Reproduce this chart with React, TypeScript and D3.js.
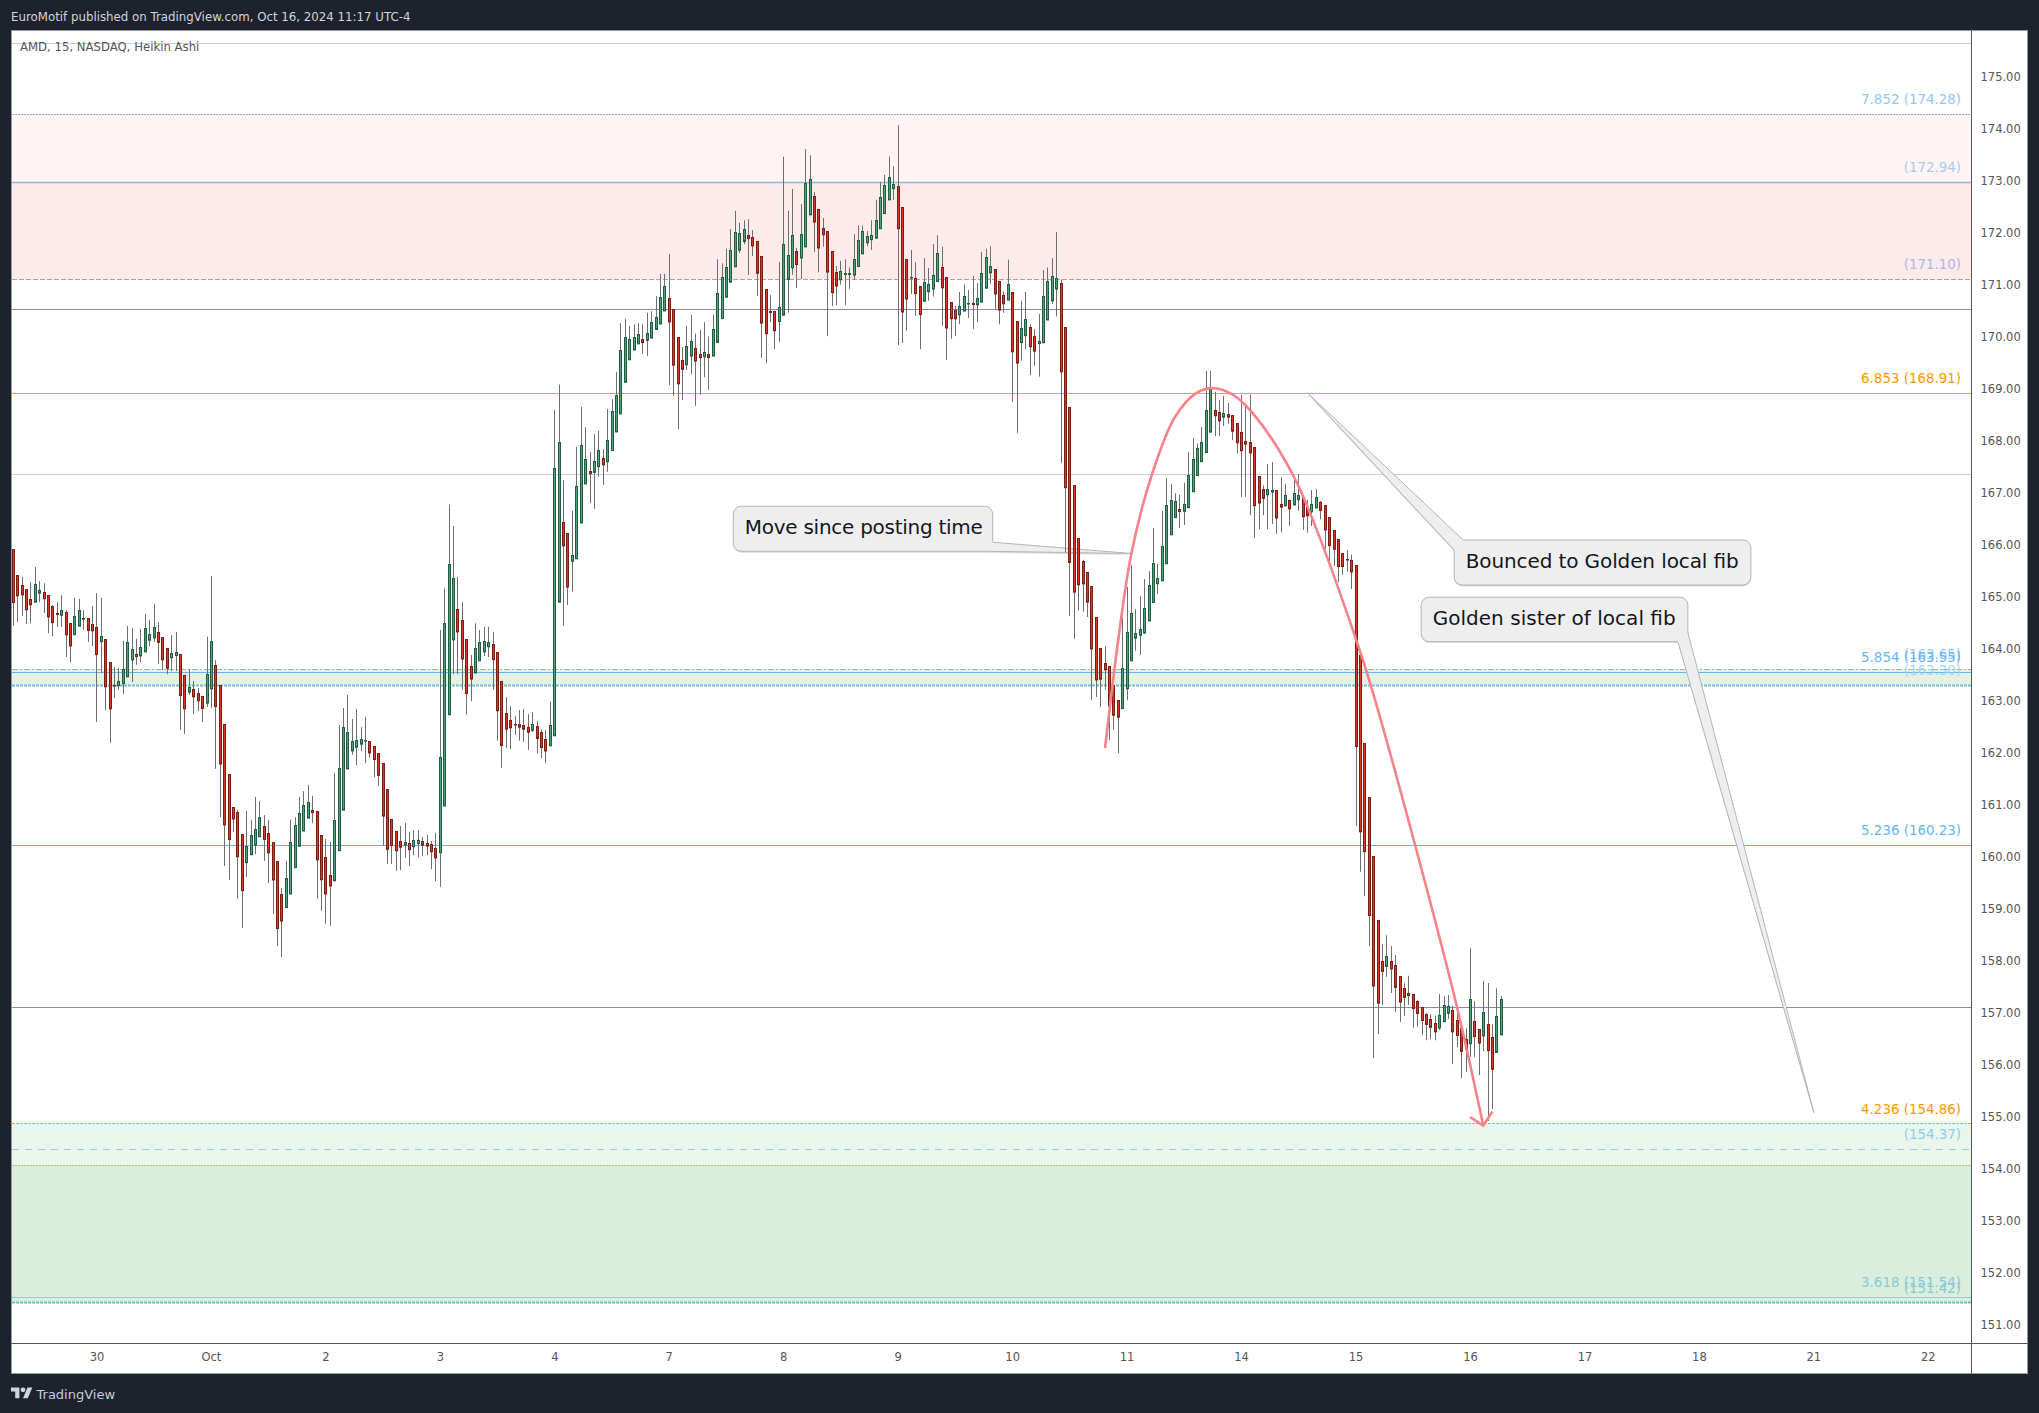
import React, { useEffect, useRef } from 'react';
import * as d3 from 'd3';

// Heikin Ashi bars, 26 to a session
const barOpen = [
  165.91,165.41,165.22,165.14,164.95,164.90,165.06,165.08,165.03,164.81,
  164.67,164.65,164.70,164.49,164.27,164.44,164.58,164.58,164.47,164.41,
  164.14,164.18,163.74,163.30,163.29,163.33,163.46,163.79,163.89,163.87,
  163.94,164.17,164.21,164.31,164.22,164.01,163.83,163.87,163.89,163.49,
  163.17,163.22,163.14,163.08,162.96,163.23,163.68,163.30,162.55,161.58,
  160.95,160.85,160.43,159.89,160.04,160.23,160.39,160.58,160.45,160.28,
  159.91,159.28,159.02,159.29,159.79,160.20,160.50,160.75,160.89,160.87,
  160.41,159.99,159.64,159.54,160.12,160.90,161.69,162.04,162.11,162.17,
  162.23,162.22,162.12,161.99,161.80,161.30,160.72,160.49,160.30,160.23,
  160.26,160.19,160.25,160.30,160.26,160.24,160.16,160.08,160.98,162.73,
  164.17,164.76,164.55,164.18,163.66,163.54,163.77,163.94,164.04,164.08,
  163.93,163.37,162.76,162.62,162.55,162.55,162.53,162.49,162.44,162.51,
  162.39,162.26,162.14,162.33,164.90,166.43,166.22,165.69,165.73,166.42,
  167.17,167.41,167.39,167.50,167.66,167.60,167.81,168.17,168.52,169.13,
  169.56,169.75,169.87,169.95,169.93,169.98,170.14,170.25,170.50,170.74,
  170.53,169.99,169.55,169.46,169.63,169.78,169.66,169.62,169.66,169.63,
  169.89,170.35,170.76,171.05,171.35,171.67,171.83,171.95,171.91,171.83,
  171.55,170.91,170.49,170.49,170.29,170.42,171.10,171.33,171.64,171.52,
  171.73,172.35,172.70,172.45,172.08,172.03,171.64,171.24,171.10,171.19,
  171.19,171.19,171.35,171.60,171.81,171.87,171.90,172.08,172.37,172.64,
  172.85,172.89,172.49,171.49,171.12,171.12,170.96,170.69,170.87,170.92,
  171.06,171.33,171.14,170.66,170.51,170.42,170.50,170.63,170.64,170.62,
  170.67,170.94,171.23,171.30,171.07,170.80,170.71,170.85,170.30,169.89,
  170.02,170.18,170.01,169.87,169.89,170.33,170.69,170.92,171.03,170.18,
  168.64,167.14,166.12,165.68,165.47,165.20,164.60,164.01,163.72,163.66,
  163.30,163.01,162.85,163.23,163.77,164.21,164.26,164.31,164.54,164.89,
  165.25,165.31,165.64,166.19,166.52,166.68,166.65,166.71,167.02,167.33,
  167.60,167.77,168.17,168.58,168.55,168.46,168.51,168.49,168.33,168.16,
  167.99,167.97,167.87,167.31,167.06,166.96,167.02,167.05,166.78,166.75,
  166.85,166.77,166.87,166.91,166.72,166.64,166.71,166.82,166.76,166.53,
  166.28,166.10,165.83,165.72,165.70,165.60,163.87,162.18,161.14,160.01,
  158.78,157.99,157.89,157.99,157.91,157.70,157.47,157.37,157.35,157.22,
  157.10,156.97,156.87,156.80,156.71,156.83,156.99,157.05,156.85,156.70,
  156.49,156.41,156.83,156.68,156.56,156.78,156.53,156.24,156.58,
];
const barHigh = [
  165.91,165.41,165.38,165.14,165.28,165.57,165.30,165.26,165.03,164.84,
  164.90,165.03,164.74,164.49,164.98,164.96,164.74,164.58,164.82,165.07,
  164.98,164.18,163.74,163.65,163.63,164.15,164.44,164.40,164.19,164.38,
  164.67,164.55,164.86,164.51,164.22,164.01,164.26,164.32,163.89,163.49,
  163.61,163.38,163.24,163.08,164.23,165.40,163.78,163.30,162.55,161.58,
  160.95,160.90,160.43,160.88,160.71,161.15,161.07,160.80,160.71,160.28,
  159.91,159.40,159.92,160.71,160.76,161.15,161.26,161.38,161.17,160.87,
  160.41,160.34,160.28,161.61,162.53,162.86,163.11,162.65,162.84,162.49,
  162.69,162.22,162.12,161.99,161.80,161.30,160.72,160.49,160.59,160.65,
  160.48,160.51,160.51,160.38,160.42,160.30,160.46,164.36,165.16,166.77,
  166.36,165.38,164.90,164.18,163.88,164.49,164.36,164.42,164.42,164.32,
  163.93,163.37,163.07,162.90,162.71,162.82,162.84,162.74,162.78,162.61,
  162.45,162.44,162.99,168.59,169.08,167.24,166.22,166.65,167.88,168.65,
  168.26,167.78,168.13,168.19,167.84,168.61,168.80,169.32,170.26,170.34,
  170.21,170.24,170.26,170.24,170.46,170.49,170.78,171.21,171.21,171.59,
  170.53,169.99,169.80,170.21,170.42,170.06,170.13,170.28,170.00,170.42,
  171.49,171.41,171.69,172.07,172.42,172.19,172.24,172.26,172.05,171.83,
  171.55,170.91,170.80,170.49,171.44,173.46,172.42,172.84,171.71,172.55,
  173.61,173.49,172.78,172.45,172.28,172.03,171.64,171.36,171.46,171.49,
  171.33,171.97,172.14,172.14,172.03,172.24,172.63,172.98,173.11,173.46,
  173.28,174.07,172.49,171.49,171.67,171.43,170.96,171.51,171.32,171.78,
  171.95,171.73,171.14,170.66,170.59,170.86,171.00,170.90,171.17,171.03,
  171.63,171.69,171.74,171.30,171.07,170.87,171.48,170.85,170.30,170.69,
  170.86,170.24,170.15,170.44,171.28,171.33,171.51,172.01,171.10,170.18,
  168.64,167.14,166.12,165.71,165.47,165.20,164.60,164.01,164.05,163.66,
  163.30,163.01,164.61,165.19,165.61,164.76,165.01,165.34,165.49,166.32,
  165.63,166.65,167.28,167.17,166.99,166.96,167.19,167.78,168.05,167.95,
  168.26,169.34,169.34,168.94,168.78,168.86,168.73,168.49,168.33,168.88,
  168.67,168.88,167.87,167.31,167.14,167.55,167.59,167.05,167.30,167.17,
  166.87,167.26,167.36,166.91,166.86,167.05,167.07,166.84,166.76,166.53,
  166.28,166.10,165.83,165.90,165.81,165.60,163.87,162.18,161.14,160.01,
  158.78,158.32,158.49,158.28,158.11,157.70,157.57,157.71,157.35,157.24,
  157.10,156.99,156.97,156.94,157.36,157.32,157.34,157.13,157.16,156.70,
  156.70,158.24,157.22,156.68,157.61,157.57,156.78,157.47,157.32,
];
const barLow = [
  164.44,164.51,164.63,164.48,164.49,164.90,164.90,164.69,164.30,164.24,
  164.42,164.42,163.84,163.74,164.27,164.44,164.36,164.13,164.05,162.59,
  163.53,162.82,162.19,163.05,163.21,163.13,163.46,163.36,163.69,163.74,
  163.94,164.05,164.13,163.71,163.59,163.51,163.57,163.57,162.44,162.36,
  163.11,162.74,162.80,162.59,162.88,162.86,161.69,160.76,159.82,159.55,
  160.48,159.19,158.63,159.61,160.04,160.05,160.39,159.92,159.49,158.90,
  158.28,158.07,159.02,159.29,159.79,160.20,160.50,160.75,160.65,159.19,
  158.96,158.71,158.67,159.54,160.12,160.90,161.69,161.96,161.76,162.03,
  161.80,161.90,161.53,161.36,160.21,159.86,159.86,159.73,159.74,159.98,
  159.82,160.03,159.99,160.01,160.03,159.76,159.53,159.42,160.98,162.73,
  163.51,163.51,163.21,162.73,162.99,163.54,163.77,163.86,163.84,163.21,
  162.23,161.71,162.09,162.07,162.34,162.23,162.21,162.05,162.40,161.99,
  161.90,161.80,162.14,162.33,164.90,164.44,164.84,165.10,165.73,166.42,
  167.17,166.80,166.69,167.31,167.15,167.40,167.81,168.17,168.52,169.13,
  169.56,169.75,169.87,169.67,169.63,169.98,170.14,170.25,170.50,169.07,
  168.86,168.22,168.78,169.36,169.28,168.67,168.88,169.22,168.98,169.63,
  169.89,170.35,170.76,171.05,171.35,171.61,171.78,171.19,171.55,170.78,
  169.59,169.49,170.28,169.76,169.90,170.42,170.46,171.19,170.94,171.11,
  171.73,172.35,171.63,171.24,171.73,170.01,170.59,170.61,171.00,170.61,
  170.92,171.09,171.35,171.60,171.74,171.67,171.90,172.08,172.37,172.64,
  172.63,169.84,169.88,170.11,170.82,170.40,169.76,170.69,170.69,170.77,
  171.06,170.21,169.55,169.96,170.01,170.24,170.50,170.36,170.15,170.28,
  170.67,170.94,171.02,170.52,170.24,170.46,170.71,168.74,168.15,169.54,
  169.76,169.26,169.44,169.23,169.89,170.33,170.63,170.39,167.57,165.86,
  164.63,164.19,164.73,164.71,164.61,163.01,163.07,162.88,163.21,162.24,
  162.44,161.99,162.85,163.01,163.77,163.96,163.88,164.29,164.54,164.89,
  165.05,165.31,165.64,166.19,166.52,166.32,166.38,166.71,167.02,167.33,
  167.60,167.77,168.17,168.09,168.09,168.28,168.32,168.01,167.76,166.92,
  166.92,166.57,166.13,166.30,166.57,166.30,166.40,166.21,166.24,166.75,
  166.36,166.77,166.65,166.28,166.23,166.36,166.71,166.49,165.92,165.69,
  165.59,165.28,165.42,165.48,165.15,160.59,159.71,159.24,158.28,156.13,
  156.59,157.15,157.69,157.38,157.01,156.82,156.94,157.15,156.71,156.73,
  156.57,156.47,156.49,156.47,156.67,156.83,156.88,156.01,156.34,155.74,
  155.86,156.15,156.15,155.80,156.26,154.92,155.15,156.24,156.58,
];
const barClose = [
  164.89,165.02,165.04,164.75,164.85,165.24,165.11,164.96,164.62,164.50,
  164.65,164.74,164.27,164.06,164.62,164.74,164.57,164.35,164.35,163.89,
  164.24,163.27,162.85,163.29,163.37,163.60,164.12,163.99,163.85,164.03,
  164.39,164.28,164.41,164.12,163.79,163.63,163.91,163.93,163.10,162.85,
  163.26,163.08,163.00,162.85,163.51,164.14,162.89,161.79,160.62,160.33,
  160.73,160.00,159.35,160.20,160.41,160.53,160.76,160.33,160.08,159.56,
  158.62,158.77,159.58,160.28,160.60,160.83,160.99,161.05,160.85,159.94,
  159.56,159.29,159.44,160.70,161.70,162.49,162.39,162.22,162.24,162.26,
  162.24,162.00,161.87,161.57,160.79,160.15,160.22,160.12,160.19,160.28,
  160.14,160.31,160.31,160.23,160.21,160.10,159.98,161.91,164.49,165.62,
  165.35,164.33,163.81,163.14,163.42,164.01,164.12,164.14,164.12,163.79,
  162.81,162.14,162.46,162.48,162.54,162.50,162.46,162.40,162.55,162.28,
  162.10,162.04,162.53,167.47,167.97,165.98,165.19,165.80,167.12,167.91,
  167.64,167.37,167.60,167.81,167.54,168.01,168.56,168.87,169.74,169.99,
  169.95,169.99,170.05,169.89,170.06,170.28,170.37,170.76,170.97,170.29,
  169.46,169.10,169.38,169.81,169.91,169.54,169.60,169.70,169.60,170.14,
  170.83,171.14,171.33,171.66,172.01,171.99,172.06,171.89,171.75,171.22,
  170.27,170.06,170.47,170.12,170.56,171.78,171.56,171.95,171.39,171.97,
  172.95,173.03,172.21,171.71,171.96,171.25,170.85,170.98,171.26,171.21,
  171.21,171.49,171.85,172.03,171.93,171.95,172.24,172.68,172.91,173.07,
  172.93,172.08,170.48,170.73,171.13,170.83,170.42,171.05,171.01,171.18,
  171.60,170.94,170.17,170.35,170.35,170.58,170.78,170.64,170.62,170.74,
  171.22,171.53,171.35,170.83,170.52,170.64,171.01,169.71,169.50,170.16,
  170.33,169.81,169.73,169.91,170.78,171.07,171.16,171.12,169.33,167.10,
  165.66,165.09,165.23,165.25,164.90,164.00,163.40,163.42,163.60,162.90,
  162.73,162.69,163.62,164.31,164.68,164.30,164.37,164.78,165.22,165.64,
  165.35,165.97,166.76,166.85,166.83,166.64,166.78,167.33,167.64,167.85,
  167.97,168.58,168.99,168.48,168.39,168.53,168.46,168.19,167.96,167.81,
  167.94,167.77,166.75,166.80,166.89,167.06,167.05,166.52,166.73,166.95,
  166.69,166.99,166.95,166.54,166.56,166.78,166.91,166.67,166.29,165.99,
  165.92,165.58,165.58,165.71,165.48,162.12,160.48,160.10,158.87,157.52,
  157.19,157.80,158.08,157.85,157.49,157.21,157.30,157.33,157.08,156.99,
  156.85,156.78,156.72,156.64,156.95,157.14,157.12,156.64,156.56,156.26,
  156.31,157.26,156.54,156.42,157.01,156.28,155.92,156.93,157.26,
];

// time axis
const dayTickBars = [19, 45, 71, 97, 123, 149, 175, 201, 227, 253, 279, 305, 331, 357, 383, 409, 435];
const dayLabels = ['30', 'Oct', '2', '3', '4', '7', '8', '9', '10', '11', '14', '15', '16', '17', '18', '21', '22'];
const priceTicks = d3.range(151, 176);

// horizontal levels, styled by the same position in levelStyles
const levelPrices = [175.64, 174.28, 172.96, 171.10, 170.53, 168.91, 167.35, 163.60, 163.55, 163.30, 160.22, 157.10, 154.86, 154.37, 154.07, 151.53, 151.42];
const levelStyles = [
  { color: '#cbc5df', width: 1, dash: '' },
  { color: '#a99fd0', width: 1, dash: '2,1' },
  { color: '#8ab8ea', width: 1.6, dash: '' },
  { color: '#cf97a5', width: 1, dash: '5,2' },
  { color: '#8c84bd', width: 1, dash: '' },
  { color: '#f5a02c', width: 1, dash: '' },
  { color: '#d4c5ea', width: 1, dash: '' },
  { color: '#93bd9c', width: 1, dash: '6,2,2,2' },
  { color: '#64b5f6', width: 1, dash: '' },
  { color: '#74bed2', width: 1.8, dash: '3,1' },
  { color: '#70b2ea', width: 1, dash: '' },
  { color: '#8c84bd', width: 1, dash: '' },
  { color: '#e6a52e', width: 1, dash: '3,1' },
  { color: '#8fd0e6', width: 1, dash: '7,6' },
  { color: '#b4c46c', width: 1, dash: '2,1' },
  { color: '#8cc9d0', width: 1, dash: '' },
  { color: '#6fc0cc', width: 1.8, dash: '3,1' },
];
const zoneTop = [174.28, 172.96, 163.60, 154.86, 154.07];
const zoneBottom = [172.96, 171.10, 163.30, 154.07, 151.42];
const zoneColors = ['#fef4f3', '#fdeaea', '#e5f1e2', '#eaf5ec', '#d9eedc'];

// level labels sit just above the level they name
const labelTexts = ['7.852 (174.28)', '(172.94)', '(171.10)', '6.853 (168.91)', '(163.65)', '5.854 (163.55)', '(163.30)', '5.236 (160.23)', '4.236 (154.86)', '(154.37)', '3.618 (151.54)', '(151.42)'];
const labelPrices = [174.28, 172.96, 171.10, 168.91, 163.60, 163.55, 163.30, 160.22, 154.86, 154.37, 151.53, 151.42];
const labelColors = ['#90c8f8', '#aac9ef', '#aeb8e2', '#ff9800', '#8ccaf8', '#64b5f6', '#a5d6ee', '#64b5f6', '#ff9800', '#90cfe8', '#8cc9d6', '#8cc9d6'];

// hand drawn path in bar / price
const curveBars = [248.0, 250.9, 254.0, 258.6, 263.9, 268.8, 272.6, 277.1, 282.4, 290.7, 296.1, 304.8, 308.2, 318.4, 327.9, 333.9];
const curvePrices = [162.09, 164.11, 165.84, 167.34, 168.46, 168.92, 169.01, 168.88, 168.44, 167.34, 166.28, 164.23, 163.34, 160.23, 157.12, 154.83];
const arrowBars = [330.9, 333.9, 336.0];
const arrowPrices = [154.99, 154.83, 155.10];

const calloutTexts = ['Move since posting time', 'Bounced to Golden local fib', 'Golden sister of local fib'];
const calloutBoxBars = [163.55, 327.3, 319.8];
const calloutBoxPrices = [166.74, 166.09, 164.99];
const calloutTipBars = [254.2, 294, 409];
const calloutTipPrices = [165.83, 168.92, 155.08];
const calloutWidths = [259.4, 296.7, 266.7];
const calloutHeights = [45, 45, 44.4];
const calloutTextLengths = [238, 273, 243];
const calloutTailCorner = ['br', 'tl', 'br'];

const W = 2039;
const H = 1413;
const left = 11.5;
const right = 1971.5;
const edge = 2027.5;
const top = 30.5;
const axisY = 1343.5;
const bottom = 1373.5;
const font = '"DejaVu Sans", sans-serif';

const x = d3.scaleLinear().domain([0, 338]).range([13.3, 1501.3]);
const y = d3.scaleLinear().domain([155, 175]).range([1116.7, 76.7]);
const snap = (v: number) => Math.round(v - 0.5) + 0.5;

// box with its tail drawn as one outline
function calloutPath(bx: number, by: number, w: number, h: number, tx: number, ty: number, corner: string) {
  const r = 8;
  const p = d3.path();
  if (corner === 'br') {
    p.moveTo(bx + r, by);
    p.lineTo(bx + w - r, by);
    p.arcTo(bx + w, by, bx + w, by + r, r);
    p.lineTo(bx + w, by + h - 9);
    p.lineTo(tx, ty);
    p.lineTo(bx + w - 10, by + h);
    p.lineTo(bx + r, by + h);
    p.arcTo(bx, by + h, bx, by + h - r, r);
    p.lineTo(bx, by + r);
    p.arcTo(bx, by, bx + r, by, r);
  } else {
    p.moveTo(bx + 9, by);
    p.lineTo(bx + w - r, by);
    p.arcTo(bx + w, by, bx + w, by + r, r);
    p.lineTo(bx + w, by + h - r);
    p.arcTo(bx + w, by + h, bx + w - r, by + h, r);
    p.lineTo(bx + r, by + h);
    p.arcTo(bx, by + h, bx, by + h - r, r);
    p.lineTo(bx, by + 10);
    p.lineTo(tx, ty);
  }
  p.closePath();
  return p.toString();
}

const App: React.FC = () => {
  const svgRef = useRef<SVGSVGElement>(null);

  useEffect(() => {
    const svg = d3.select(svgRef.current);
    svg.selectAll('*').remove();

    svg.append('rect').attr('width', W).attr('height', H).attr('fill', '#1e222d');
    svg.append('rect')
      .attr('x', left).attr('y', top)
      .attr('width', edge - left).attr('height', bottom - top)
      .attr('fill', '#ffffff').attr('stroke', '#9598a1');

    // header and footer
    svg.append('text').attr('x', 11).attr('y', 20.5)
      .attr('font-family', font).attr('font-size', 11.8).attr('fill', '#d1d4dc')
      .text('EuroMotif published on TradingView.com, Oct 16, 2024 11:17 UTC-4');
    const logo = svg.append('g').attr('transform', 'translate(11,1385) scale(0.6)').attr('fill', '#d1d4dc');
    logo.append('path').attr('d', 'M14 22H7V11H0V4h14v18ZM28 22h-8l7.5-18h8L28 22Z');
    logo.append('circle').attr('cx', 20).attr('cy', 8).attr('r', 4);
    svg.append('text').attr('x', 36.5).attr('y', 1398.5)
      .attr('font-family', font).attr('font-size', 13).attr('fill', '#c8cbd3')
      .text('TradingView');

    // zones and levels
    svg.append('g').selectAll('rect').data(zoneTop).join('rect')
      .attr('x', left + 0.5)
      .attr('width', right - left - 0.5)
      .attr('y', d => y(d))
      .attr('height', (d, i) => y(zoneBottom[i]) - y(d))
      .attr('fill', (d, i) => zoneColors[i]);

    svg.append('g').selectAll('line').data(levelPrices).join('line')
      .attr('x1', left + 0.5).attr('x2', right)
      .attr('y1', d => snap(y(d))).attr('y2', d => snap(y(d)))
      .attr('stroke', (d, i) => levelStyles[i].color)
      .attr('stroke-width', (d, i) => levelStyles[i].width)
      .attr('stroke-dasharray', (d, i) => levelStyles[i].dash);

    svg.append('text').attr('x', 20).attr('y', 50.5)
      .attr('font-family', font).attr('font-size', 11.7).attr('fill', '#555555')
      .text('AMD, 15, NASDAQ, Heikin Ashi');

    // callouts
    const callouts = svg.append('g');
    calloutTexts.forEach((t, i) => {
      const bx = x(calloutBoxBars[i]);
      const by = y(calloutBoxPrices[i]);
      const d = calloutPath(bx, by, calloutWidths[i], calloutHeights[i], x(calloutTipBars[i]), y(calloutTipPrices[i]), calloutTailCorner[i]);
      callouts.append('path').attr('d', d).attr('transform', 'translate(0,1.5)').attr('fill', '#dcdcdc');
      callouts.append('path').attr('d', d).attr('fill', '#eeeeee').attr('stroke', '#b2b5be');
      callouts.append('text')
        .attr('x', bx + 11.5).attr('y', by + calloutHeights[i] / 2 - 1.5)
        .attr('dy', '0.35em')
        .attr('font-family', font).attr('font-size', 20).attr('fill', '#131722')
        .attr('textLength', calloutTextLengths[i])
        .text(t);
    });

    // candles
    const bars = d3.range(barOpen.length);
    const wicks = svg.append('g');
    wicks.selectAll('line').data(bars).join('line')
      .attr('x1', i => snap(x(i))).attr('x2', i => snap(x(i)))
      .attr('y1', i => y(barHigh[i])).attr('y2', i => y(barLow[i]))
      .attr('stroke', '#6f6f6f').attr('stroke-width', 1);
    svg.append('g').selectAll('rect').data(bars).join('rect')
      .attr('x', i => snap(x(i)) - 1)
      .attr('width', 2)
      .attr('y', i => snap(y(Math.max(barOpen[i], barClose[i]))))
      .attr('height', i => Math.max(0.5, Math.abs(y(barOpen[i]) - y(barClose[i]))))
      .attr('fill', i => (barClose[i] >= barOpen[i] ? '#4f9f78' : '#d2392a'))
      .attr('stroke', i => (barClose[i] >= barOpen[i] ? '#1f5e40' : '#7f1d15'))
      .attr('stroke-width', 1);

    // red path and arrow head
    const pathLine = d3.line<number>()
      .x(i => x(curveBars[i]))
      .y(i => y(curvePrices[i]))
      .curve(d3.curveCatmullRom.alpha(0.5));
    svg.append('path')
      .attr('d', pathLine(d3.range(curveBars.length)))
      .attr('fill', 'none').attr('stroke', '#f7828a').attr('stroke-width', 2.6);
    const arrowLine = d3.line<number>().x(i => x(arrowBars[i])).y(i => y(arrowPrices[i]));
    svg.append('path')
      .attr('d', arrowLine(d3.range(arrowBars.length)))
      .attr('fill', 'none').attr('stroke', '#f7828a').attr('stroke-width', 2.6);

    // level labels
    svg.append('g').selectAll('text').data(labelTexts).join('text')
      .attr('x', 1961)
      .attr('y', (d, i) => y(labelPrices[i]) - 15)
      .attr('dy', '0.35em')
      .attr('text-anchor', 'end')
      .attr('font-family', font).attr('font-size', 13.4)
      .attr('fill', (d, i) => labelColors[i])
      .text(d => d);

    // axes
    const yAxis = d3.axisRight(y).tickValues(priceTicks).tickFormat(d3.format('.2f')).tickSize(0).tickPadding(9);
    const yG = svg.append('g').attr('transform', `translate(${right},0.5)`).call(yAxis);
    yG.select('.domain').remove();
    yG.selectAll('text').attr('font-family', font).attr('font-size', 11.5).attr('fill', '#555555');

    const xAxis = d3.axisBottom(x).tickValues(dayTickBars).tickFormat((d, i) => dayLabels[i]).tickSize(0).tickPadding(9);
    const xG = svg.append('g').attr('transform', `translate(-0.5,${axisY})`).call(xAxis);
    xG.select('.domain').remove();
    xG.selectAll('text').attr('font-family', font).attr('font-size', 11.5).attr('fill', '#555555');

    svg.append('line').attr('x1', left).attr('x2', edge).attr('y1', axisY).attr('y2', axisY).attr('stroke', '#555555');
    svg.append('line').attr('x1', right).attr('x2', right).attr('y1', top).attr('y2', bottom).attr('stroke', '#555555');
  }, []);

  return <svg ref={svgRef} width={W} height={H} style={{ position: 'absolute', left: 0, top: 0, display: 'block' }} />;
};

export default App;
